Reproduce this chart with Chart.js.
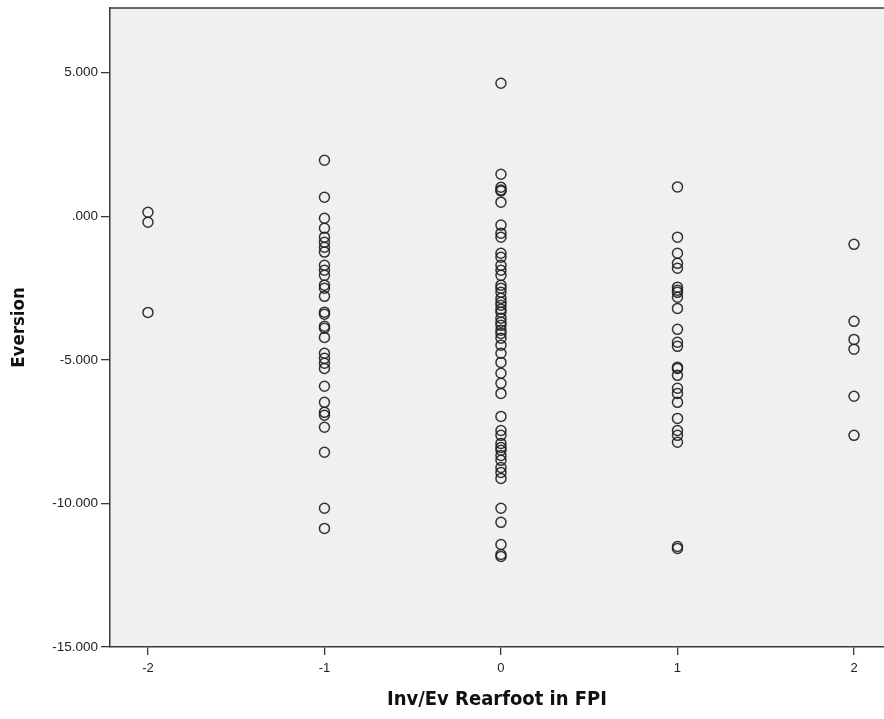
<!DOCTYPE html>
<html>
<head>
<meta charset="utf-8">
<script src="https://cdn.jsdelivr.net/npm/chart.js@4/dist/chart.umd.min.js"></script>
<style>
html,body{margin:0;padding:0;background:#fff;}
#wrap{width:884px;height:719px;}
</style>
</head>
<body>
<div id="wrap"><canvas id="c" width="884" height="719"></canvas></div>
<script>
// Category (x) values and Eversion values
const groupM2 = [0.14, -0.21, -3.35];
const groupM1 = [1.95, 0.66, -0.07, -0.42, -0.73, -0.91, -1.08, -1.25, -1.71, -1.88, -2.06, -2.40, -2.51, -2.79,
  -3.34, -3.41, -3.83, -3.90, -4.22, -4.77, -4.95, -5.12, -5.30, -5.92, -6.48, -6.83, -6.93, -7.35, -8.22, -10.17, -10.87];
const group0 = [4.63, 1.46, 1.01, 0.91, 0.88, 0.49, -0.31, -0.59, -0.73, -1.29, -1.43, -1.71, -1.88, -2.06, -2.40, -2.51,
  -2.65, -2.86, -3.00, -3.10, -3.24, -3.34, -3.55, -3.69, -3.80, -3.97, -4.08, -4.25, -4.49, -4.77, -5.09, -5.47, -5.82,
  -6.17, -6.97, -7.46, -7.63, -7.91, -8.05, -8.15, -8.33, -8.50, -8.75, -8.92, -9.13, -10.17, -10.66, -11.43, -11.78, -11.85];
const groupP1 = [1.02, -0.73, -1.29, -1.64, -1.81, -2.47, -2.58, -2.65, -2.82, -3.21, -3.94, -4.39, -4.53, -5.26, -5.30,
  -5.54, -5.99, -6.17, -6.48, -7.04, -7.46, -7.63, -7.87, -11.50, -11.57];
const groupP2 = [-0.98, -3.66, -4.29, -4.63, -6.27, -7.63];

const categories = [-2, -1, 0, 1, 2];
const groups = [groupM2, groupM1, group0, groupP1, groupP2];

const xTicks = [-2, -1, 0, 1, 2];
const yTicks = [-15, -10, -5, 0, 5];
const yTickLabels = ['-15.000', '-10.000', '-5.000', '.000', '5.000'];

const points = [];
categories.forEach((c, i) => groups[i].forEach(v => points.push({x: c, y: v})));

const frameColor = '#3a3a3a';
const titleFont = 'DejaVu Sans Condensed, Liberation Sans, Arial, sans-serif';
const tickFont = 'Liberation Sans, Arial, sans-serif';

const plotBg = {
  id: 'plotBg',
  beforeDraw(chart) {
    const {ctx, chartArea: a} = chart;
    ctx.save();
    ctx.fillStyle = '#f0f0f0';
    ctx.fillRect(a.left, a.top, chart.width - a.left, a.bottom - a.top);
    ctx.restore();
  },
  afterDraw(chart) {
    const {ctx, chartArea: a} = chart;
    ctx.save();
    ctx.strokeStyle = frameColor;
    ctx.lineWidth = 1.5;
    ctx.beginPath();
    ctx.moveTo(a.left, a.top);
    ctx.lineTo(chart.width, a.top);
    ctx.stroke();
    ctx.restore();
  }
};

new Chart(document.getElementById('c'), {
  type: 'scatter',
  data: {
    datasets: [{
      data: points,
      pointStyle: 'circle',
      pointRadius: 5,
      pointHoverRadius: 5,
      pointBorderWidth: 1.5,
      borderColor: 'rgba(30,30,30,0.9)',
      backgroundColor: 'rgba(0,0,0,0)',
      clip: false
    }]
  },
  options: {
    responsive: false,
    animation: false,
    events: [],
    layout: {autoPadding: false, padding: {top: 8, right: 0, left: 0, bottom: 0}},
    plugins: {legend: {display: false}, tooltip: {enabled: false}},
    scales: {
      x: {
        type: 'linear',
        min: -2.215,
        max: 2.17,
        afterBuildTicks: s => { s.ticks = xTicks.map(v => ({value: v})); },
        afterFit: s => { s.height = 72; s.paddingLeft = 0; s.paddingRight = 0; },
        grid: {drawOnChartArea: false, drawTicks: true, tickLength: 8, color: frameColor, lineWidth: 1.3},
        border: {display: true, color: frameColor, width: 1.5},
        ticks: {
          color: '#222',
          padding: 6,
          font: {family: tickFont, size: 13},
          callback: v => String(v)
        },
        title: {
          display: true,
          text: 'Inv/Ev Rearfoot in FPI',
          color: '#111',
          font: {family: titleFont, size: 20, weight: 'bold'},
          padding: {top: 6, bottom: 7}
        }
      },
      y: {
        type: 'linear',
        min: -15,
        max: 7.25,
        afterBuildTicks: s => { s.ticks = yTicks.map(v => ({value: v})); },
        afterFit: s => { s.width = 110; s.paddingTop = 0; s.paddingBottom = 0; },
        grid: {drawOnChartArea: false, drawTicks: true, tickLength: 9, color: frameColor, lineWidth: 1.3},
        border: {display: true, color: frameColor, width: 1.5},
        ticks: {
          color: '#222',
          padding: 3,
          font: {family: tickFont, size: 13.5},
          callback: v => yTickLabels[yTicks.indexOf(v)]
        },
        title: {
          display: true,
          text: 'Eversion',
          color: '#111',
          font: {family: titleFont, size: 18.5, weight: 'bold'},
          padding: {top: 8, bottom: 0}
        }
      }
    }
  },
  plugins: [plotBg]
});
</script>
</body>
</html>
